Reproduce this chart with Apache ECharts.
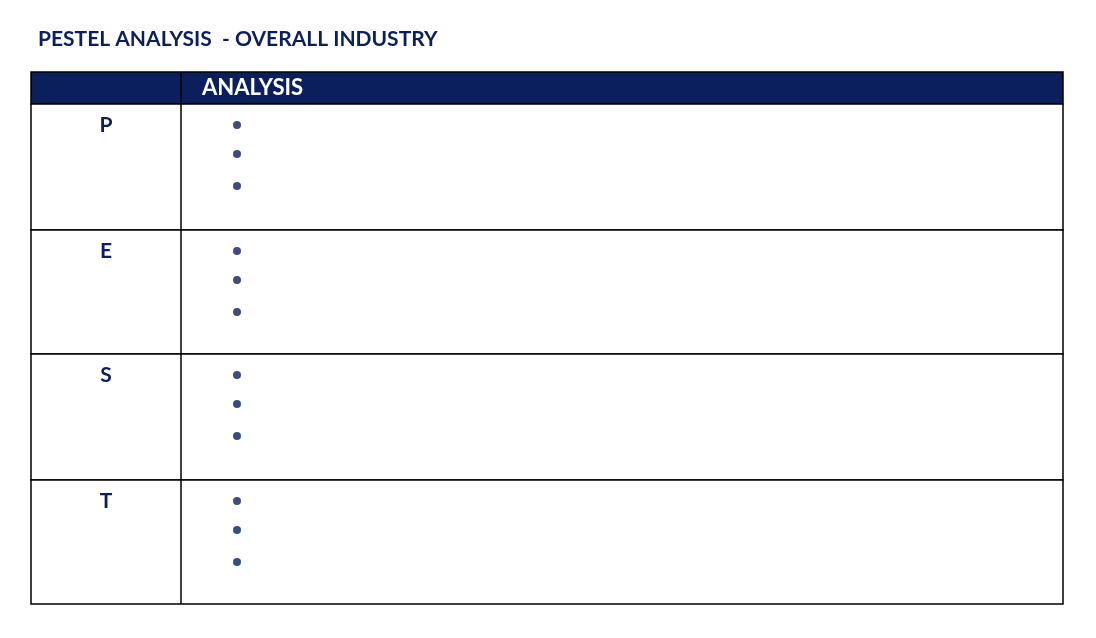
<!DOCTYPE html>
<html><head><meta charset="utf-8">
<script src="https://cdn.jsdelivr.net/npm/echarts@6/dist/echarts.min.js"></script>
<style>html,body{margin:0;padding:0;background:#fff}#c{width:1096px;height:638px}</style>
</head><body><div id="c"></div>
<script>
const title = "PESTEL ANALYSIS  - OVERALL INDUSTRY";
const headerLabel = "ANALYSIS";
const rowLetters = ["P", "E", "S", "T"];
const rowTops = [32, 158, 282, 408];      // y units (pixels below table top)
const rowBottoms = [158, 282, 408, 532];
const bulletsPerRow = [3, 3, 3, 3];
const bulletOffsets = [21, 50, 82];
const navy = "#0b1f5c";

const chart = echarts.init(document.getElementById('c'));
const rowData = rowLetters.map((l, i) => [i, rowTops[i], rowBottoms[i]]);
const bulletData = [];
rowLetters.forEach((l, i) => {
  for (let b = 0; b < bulletsPerRow[i]; b++) bulletData.push([206, rowTops[i] + bulletOffsets[b]]);
});

chart.setOption({
  animation: false,
  title: { text: title, left: 33, top: 24, textStyle: { color: navy, fontSize: 21, fontWeight: 'bold', fontFamily: 'Lato' } },
  grid: { left: 31, right: 33, top: 72, bottom: 34 },
  xAxis: { type: 'value', min: 0, max: 1032, show: false },
  yAxis: { type: 'value', min: 0, max: 532, inverse: true, show: false },
  series: [
    {
      type: 'custom', silent: true,
      data: [[0]],
      renderItem: (p, api) => {
        const a = api.coord([0, 0]), b = api.coord([1032, 32]), d = api.coord([150, 0]);
        return { type: 'group', children: [
          { type: 'rect', shape: { x: a[0], y: a[1], width: b[0] - a[0], height: b[1] - a[1] }, style: { fill: navy, stroke: '#000', lineWidth: 1.5 } },
          { type: 'text', style: { x: d[0] + 21, y: (a[1] + b[1]) / 2, text: headerLabel, fill: '#fff', font: 'bold 22px Lato', verticalAlign: 'middle' } }
        ]};
      }
    },
    {
      type: 'custom', silent: true,
      data: rowData,
      renderItem: (p, api) => {
        const i = api.value(0);
        const a = api.coord([0, api.value(1)]), b = api.coord([1032, api.value(2)]), m = api.coord([150, 0]);
        return { type: 'group', children: [
          { type: 'rect', shape: { x: a[0], y: a[1], width: b[0] - a[0], height: b[1] - a[1] }, style: { fill: '#fff', stroke: '#000', lineWidth: 1.5 } },
          { type: 'line', shape: { x1: m[0], y1: a[1], x2: m[0], y2: b[1] }, style: { stroke: '#000', lineWidth: 1.5 } },
          { type: 'text', style: { x: (a[0] + m[0]) / 2, y: a[1] + 21, text: rowLetters[i], fill: navy, font: 'bold 21px Lato', align: 'center', verticalAlign: 'middle' } }
        ]};
      }
    },
    {
      type: 'custom', silent: true, z: 5,
      data: [[150, 0, 32]],
      renderItem: (p, api) => {
        const a = api.coord([150, 0]), b = api.coord([150, 32]);
        return { type: 'line', shape: { x1: a[0], y1: a[1], x2: b[0], y2: b[1] }, style: { stroke: '#000', lineWidth: 1.5 } };
      }
    },
    {
      type: 'scatter', silent: true, z: 6,
      data: bulletData, symbol: 'circle', symbolSize: 8,
      itemStyle: { color: navy }
    }
  ]
});
</script></body></html>
